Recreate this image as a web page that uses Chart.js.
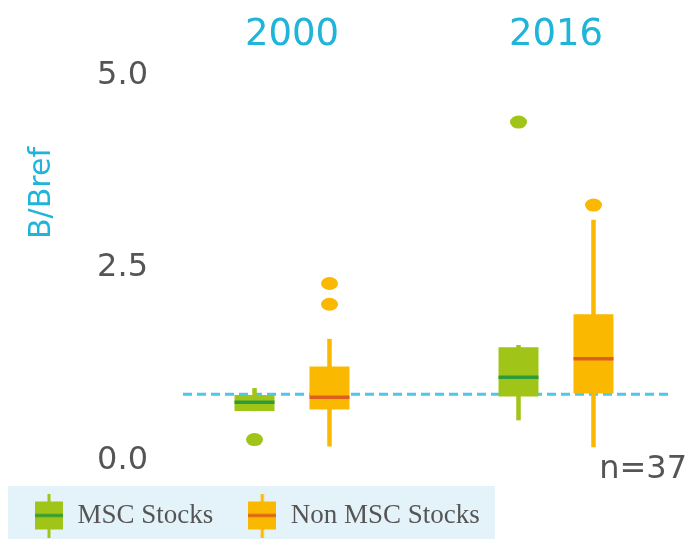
<!DOCTYPE html>
<html lang="en">
<head>
<meta charset="utf-8">
<title>B/Bref 2000 vs 2016</title>
<script src="https://cdn.jsdelivr.net/npm/chart.js@4.4.1/dist/chart.umd.min.js"></script>
<style>
  html, body { margin: 0; padding: 0; background: #fff; }
  #holder { width: 692px; height: 539px; }
</style>
</head>
<body>
<div id="holder"><canvas id="chart"></canvas></div>
<script>
const years = ['2000', '2016'];
const yTicks = [0, 2.5, 5.0];
const refLine = 0.86;      // dashed reference level
const sampleNote = 'n=37';

// MSC stocks, per year
const mscMin = [0.64, 0.52];
const mscQ1 = [0.64, 0.83];
const mscMedian = [0.755, 1.08];
const mscQ3 = [0.85, 1.47];
const mscMax = [0.94, 1.50];
const mscOutliers = [[0.27], [4.40]];

// Non MSC stocks, per year
const nonMin = [0.18, 0.17];
const nonQ1 = [0.66, 0.87];
const nonMedian = [0.82, 1.32];
const nonQ3 = [1.22, 1.90];
const nonMax = [1.58, 3.13];
const nonOutliers = [[2.03, 2.30], [3.32]];

const GREEN = '#a0c417', GREEN_MED = '#2e9b3b';
const ORANGE = '#fbb800', ORANGE_MED = '#de5f1c';
const CYAN = '#1fb4da';
const GREY = '#555555';

// little box-and-whisker icon for the legend
function makeIcon(fill, med) {
    const c = document.createElement('canvas');
    c.width = 28; c.height = 44;
    const g = c.getContext('2d');
    g.fillStyle = fill;
    g.fillRect(12.5, 0, 3, 44);
    g.fillRect(0, 8, 28, 28);
    g.fillStyle = med;
    g.fillRect(0, 20.5, 28, 3);
    return c;
}

const boxExtras = {
    id: 'boxExtras',
    beforeDraw(chart) {
        // pale band behind the legend
        const lg = chart.legend;
        if (!lg || !lg.legendHitBoxes.length) return;
        const hb = lg.legendHitBoxes;
        const last = hb[hb.length - 1];
        const ctx = chart.ctx;
        const x0 = hb[0].left - 26;
        ctx.save();
        ctx.fillStyle = '#e4f2fa';
        ctx.fillRect(x0, lg.top + 18, last.left + last.width + 15 - x0, lg.bottom - lg.top - 18);
        ctx.restore();
    },
    beforeDatasetsDraw(chart) {
        const ctx = chart.ctx, y = chart.scales.y, area = chart.chartArea;
        ctx.save();
        // reference line
        ctx.strokeStyle = '#4ec6e8';
        ctx.lineWidth = 3;
        ctx.setLineDash([9, 5]);
        ctx.beginPath();
        const ry = y.getPixelForValue(refLine);
        ctx.moveTo(area.left + 23, ry);
        ctx.lineTo(area.right - 20, ry);
        ctx.stroke();
        ctx.setLineDash([]);
        // whiskers
        chart.data.datasets.forEach((ds, d) => {
            const meta = chart.getDatasetMeta(d);
            meta.data.forEach((el, i) => {
                ctx.strokeStyle = ds.backgroundColor;
                ctx.lineWidth = 4.5;
                ctx.beginPath();
                ctx.moveTo(el.x, y.getPixelForValue(ds.whiskerMin[i]));
                ctx.lineTo(el.x, y.getPixelForValue(ds.whiskerMax[i]));
                ctx.stroke();
            });
        });
        ctx.restore();
    },
    afterDatasetsDraw(chart) {
        const ctx = chart.ctx, y = chart.scales.y;
        ctx.save();
        chart.data.datasets.forEach((ds, d) => {
            const meta = chart.getDatasetMeta(d);
            meta.data.forEach((el, i) => {
                const my = y.getPixelForValue(ds.median[i]);
                ctx.strokeStyle = ds.medianColor;
                ctx.lineWidth = 3.5;
                ctx.beginPath();
                ctx.moveTo(el.x - el.width / 2, my);
                ctx.lineTo(el.x + el.width / 2, my);
                ctx.stroke();
                ctx.fillStyle = ds.backgroundColor;
                ds.outliers[i].forEach(v => {
                    ctx.beginPath();
                    ctx.ellipse(el.x, y.getPixelForValue(v), 8.5, 6.5, 0, 0, Math.PI * 2);
                    ctx.fill();
                });
            });
        });
        ctx.restore();
    },
    afterDraw(chart) {
        const ctx = chart.ctx, area = chart.chartArea;
        ctx.save();
        // y axis title sits high on the axis
        ctx.translate(area.left - 118, area.top + 137);
        ctx.rotate(-Math.PI / 2);
        ctx.font = '30px "DejaVu Sans"';
        ctx.fillStyle = CYAN;
        ctx.textAlign = 'center';
        ctx.textBaseline = 'middle';
        ctx.fillText('B/Bref', 0, 0);
        ctx.restore();
        ctx.save();
        ctx.font = '32px "DejaVu Sans"';
        ctx.fillStyle = GREY;
        ctx.textAlign = 'right';
        ctx.textBaseline = 'middle';
        ctx.fillText(sampleNote, area.right - 1, area.bottom + 2);
        ctx.restore();
    }
};

const datasets = [
    {
        label: 'MSC Stocks',
        data: years.map((_, i) => [mscQ1[i], mscQ3[i]]),
        backgroundColor: GREEN,
        medianColor: GREEN_MED,
        median: mscMedian,
        whiskerMin: mscMin,
        whiskerMax: mscMax,
        outliers: mscOutliers,
        icon: makeIcon(GREEN, GREEN_MED)
    },
    {
        label: 'Non MSC Stocks',
        data: years.map((_, i) => [nonQ1[i], nonQ3[i]]),
        backgroundColor: ORANGE,
        medianColor: ORANGE_MED,
        median: nonMedian,
        whiskerMin: nonMin,
        whiskerMax: nonMax,
        outliers: nonOutliers,
        icon: makeIcon(ORANGE, ORANGE_MED)
    }
];
datasets.forEach(ds => {
    ds.borderWidth = 0;
    ds.borderSkipped = false;
    ds.categoryPercentage = 0.568;
    ds.barPercentage = 0.533;
});

new Chart(document.getElementById('chart'), {
    type: 'bar',
    data: { labels: years, datasets: datasets },
    plugins: [boxExtras],
    options: {
        responsive: true,
        maintainAspectRatio: false,
        animation: false,
        layout: { padding: { left: 0, right: 4, top: 0, bottom: 0 } },
        plugins: {
            tooltip: { enabled: false },
            legend: {
                position: 'bottom',
                align: 'start',
                labels: {
                    usePointStyle: true,
                    pointStyleWidth: 30,
                    padding: 34,
                    color: GREY,
                    font: { family: '"Liberation Serif"', size: 27 },
                    generateLabels(chart) {
                        return chart.data.datasets.map((ds, i) => ({
                            text: ds.label,
                            pointStyle: ds.icon,
                            fillStyle: ds.backgroundColor,
                            strokeStyle: ds.backgroundColor,
                            lineWidth: 0,
                            fontColor: GREY,
                            hidden: false,
                            datasetIndex: i
                        }));
                    }
                }
            }
        },
        scales: {
            x: {
                position: 'top',
                grid: { display: false },
                border: { display: false },
                ticks: {
                    color: CYAN,
                    padding: -10,
                    font: { family: '"DejaVu Sans"', size: 37 }
                },
                afterFit(scale) { scale.height = 56; }
            },
            y: {
                min: -0.1,
                max: 5.26,
                grid: { display: false },
                border: { display: false },
                afterBuildTicks(scale) { scale.ticks = yTicks.map(v => ({ value: v })); },
                ticks: {
                    color: GREY,
                    padding: 4,
                    font: { family: '"DejaVu Sans"', size: 32 },
                    callback: v => Number(v).toFixed(1)
                },
                afterFit(scale) { scale.width = 160; }
            }
        }
    }
});
</script>
</body>
</html>
